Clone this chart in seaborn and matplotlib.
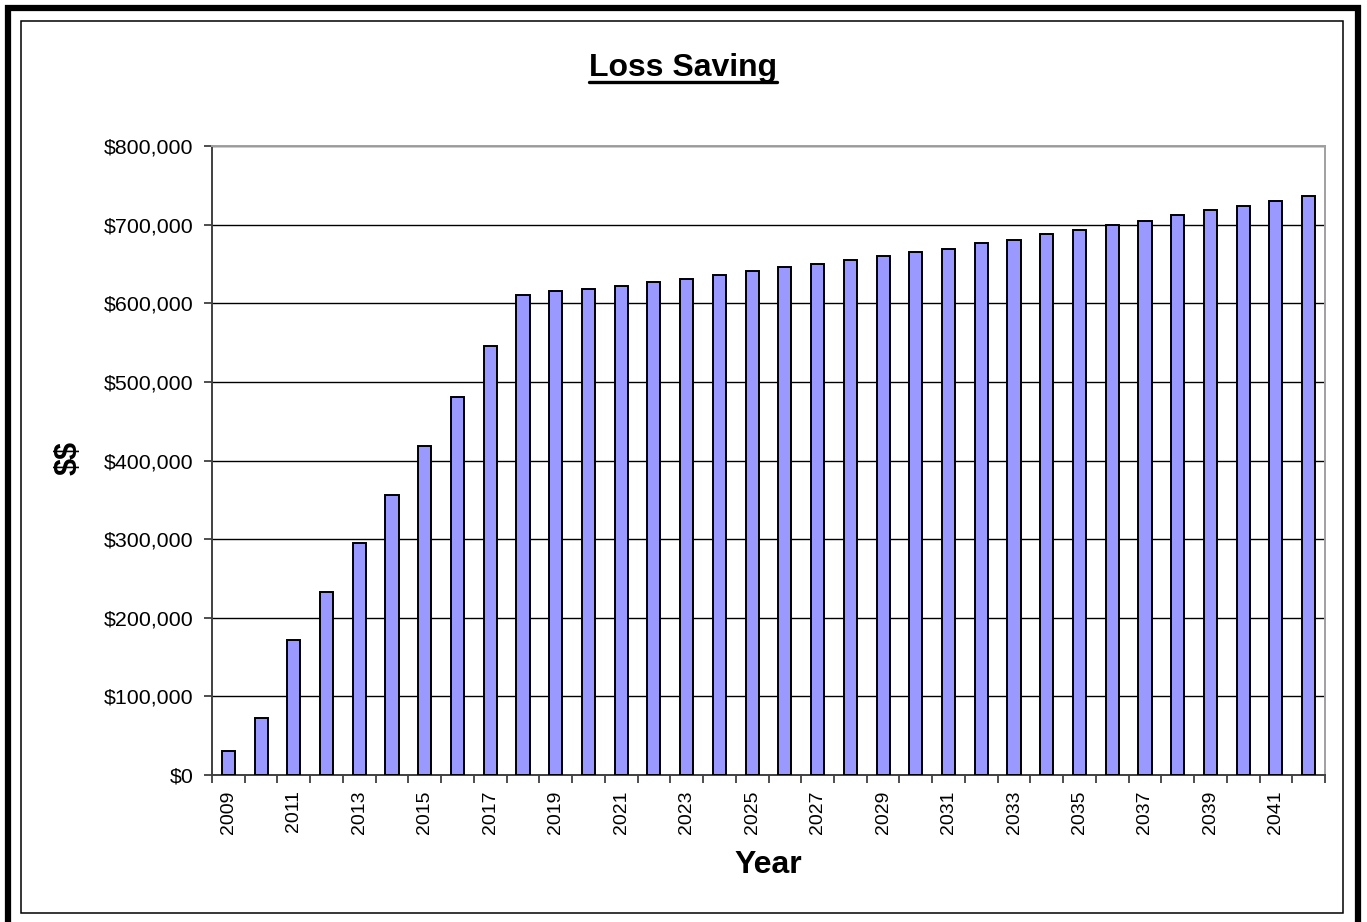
import matplotlib
matplotlib.use("Agg")
import matplotlib.pyplot as plt
from matplotlib.patches import Rectangle
from matplotlib.lines import Line2D
from matplotlib.ticker import FuncFormatter, FixedLocator
import seaborn as sns
import pandas as pd

# Annual loss saving, 2009-2042
years = [str(y) for y in range(2009, 2043)]
savings = [30000, 73000, 172000, 233000, 295000, 356000, 418000, 481000,
           545000, 611000, 616000, 618000, 622000, 627000, 631000, 636000,
           641000, 646000, 650000, 655000, 660000, 665000, 669000, 677000,
           681000, 688000, 693000, 700000, 705000, 712000, 719000, 724000,
           730000, 737000]
y_ticks = [0, 100000, 200000, 300000, 400000, 500000, 600000, 700000, 800000]

title_text = "Loss Saving"
x_title = "Year"
y_title = "$$"

sns.set_theme(style="white")
plt.rcParams["font.family"] = ["Liberation Sans", "DejaVu Sans"]
plt.rcParams["text.parse_math"] = False

W, H = 1367, 922
fig = plt.figure(figsize=(W / 100, H / 100), dpi=100)
fig.patch.set_facecolor("white")


def fx(px):
    return px / W


def fy(py):
    return 1 - py / H


# plot area
ax = fig.add_axes([fx(212), fy(775), fx(1325) - fx(212), fy(146) - fy(775)])

df = pd.DataFrame({"year": years, "saving": savings})
sns.barplot(data=df, x="year", y="saving", order=years, color="#9999ff",
            saturation=1, width=0.4, edgecolor="black", linewidth=1.4, ax=ax,
            zorder=3)

ax.set_ylim(0, 800000)
ax.set_xlim(-0.5, len(years) - 0.5)
ax.yaxis.set_major_locator(FixedLocator(y_ticks))
ax.yaxis.set_major_formatter(FuncFormatter(lambda v, _: f"${v:,.0f}"))
ax.grid(axis="y", color="black", linewidth=1.0, zorder=0)
ax.set_axisbelow(True)

# every other year labelled, tick marks between categories
label_pos = list(range(0, len(years), 2))
ax.set_xticks(label_pos)
ax.set_xticklabels([years[i] for i in label_pos], rotation=90)
ax.set_xticks([i - 0.5 for i in range(len(years) + 1)], minor=True)
ax.tick_params(axis="x", which="major", length=0, pad=11, labelsize=14)
ax.tick_params(axis="x", which="minor", length=6, width=1.2, color="#303030",
               direction="out", bottom=True)
ax.tick_params(axis="y", which="major", length=6, width=1.2, color="#303030",
               direction="out", left=True, pad=7.5, labelsize=15.4)
for lbl in ax.get_xticklabels() + ax.get_yticklabels():
    lbl.set_color("black")

ax.set_xlabel("")
ax.set_ylabel("")
for side in ("left", "bottom"):
    ax.spines[side].set_color("#404040")
    ax.spines[side].set_linewidth(1.4)
for side in ("top", "right"):
    ax.spines[side].set_color("#a0a0a0")
    ax.spines[side].set_linewidth(1.4)

# titles
t = fig.text(fx(683), fy(76), title_text, ha="center", va="baseline",
             fontsize=23, fontweight="bold", color="black")
fig.text(fx(768), fy(865), x_title, ha="center", va="center",
         fontsize=23, fontweight="bold", color="black")
fig.text(fx(69), fy(458), y_title, ha="center", va="center", rotation=90,
         fontsize=22, fontweight="bold", color="black", parse_math=False)

# underline the chart title
fig.canvas.draw()
bb = t.get_window_extent(renderer=fig.canvas.get_renderer())
fig.add_artist(Line2D([bb.x0 / W, bb.x1 / W], [fy(82), fy(82)],
                      transform=fig.transFigure, color="black", linewidth=2.4))

# chart frames
fig.add_artist(Rectangle((fx(20.5), fy(912.5)), fx(1342.5) - fx(20.5),
                         fy(20.5) - fy(912.5), transform=fig.transFigure,
                         fill=False, edgecolor="black", linewidth=1.1))
fig.add_artist(Rectangle((fx(8), fy(935)), fx(1358) - fx(8),
                         fy(8) - fy(935), transform=fig.transFigure,
                         fill=False, edgecolor="black", linewidth=4.5))

fig.savefig("out.png", dpi=100)
